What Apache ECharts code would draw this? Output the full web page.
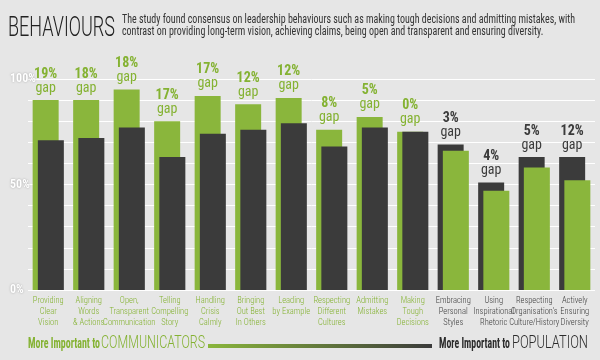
<!DOCTYPE html>
<html><head><meta charset="utf-8">
<script src="https://cdn.jsdelivr.net/npm/echarts@6/dist/echarts.min.js"></script>
<style>html,body{margin:0;padding:0;background:#e6e6e6}#c{width:600px;height:360px}</style>
</head><body><div id="c"></div>
<script>
const categories = ['Providing\nClear\nVision', 'Aligning\nWords\n& Actions', 'Open,\nTransparent\nCommunication', 'Telling\nCompelling\nStory', 'Handling\nCrisis\nCalmly', 'Bringing\nOut Best\nIn Others', 'Leading\nby Example', 'Respecting\nDifferent\nCultures', 'Admitting\nMistakes', 'Making\nTough\nDecisions', 'Embracing\nPersonal\nStyles', 'Using\nInspirational\nRhetoric', "Respecting\nOrganisation's\nCulture/History", 'Actively\nEnsuring\nDiversity'];
const communicators = [90, 90, 95, 80, 92, 88, 91, 76, 82, 75, 66, 47, 58, 52];
const population = [71, 72, 77, 63, 74, 76, 79, 68, 77, 75, 69, 51, 63, 63];
const gapLabels = ['19%', '18%', '18%', '17%', '17%', '12%', '12%', '8%', '5%', '0%', '3%', '4%', '5%', '12%'];
const yTickLabels = [0, 50, 100];
const titleText = 'BEHAVIOURS';
const subtitleText = 'The study found consensus on leadership behaviours such as making tough decisions and admitting mistakes, with\ncontrast on providing long-term vision, achieving claims, being open and transparent and ensuring diversity.';
const legendLeft = ['More Important to', 'COMMUNICATORS'];
const legendRight = ['More Important to', 'POPULATION'];

const GREEN = '#8ab63c', GREEN_TXT = '#84b232', DARK = '#3b3b3b', BG = '#e6e6e6';
const COND = "'Roboto Condensed', 'Liberation Sans', sans-serif";
const HAND = "Roboto, sans-serif";

const mctx = document.createElement('canvas').getContext('2d');
function fit(text, size, weight, family, w) {
  mctx.font = weight + ' ' + size + 'px ' + family;
  return w / mctx.measureText(text.split('\n')[0]).width;
}

// which group is more important to communicators (green bar behind / left)
const commTop = communicators.map((v, i) => v >= population[i]);

function richFor(color) {
  return {
    p: { fontFamily: COND, fontWeight: 'bold', fontSize: 14, color: color, lineHeight: 14 },
    g: { fontFamily: COND, fontSize: 14, color: color, lineHeight: 14 }
  };
}
const labelFmt = p => '{p|' + gapLabels[p.dataIndex] + '}\n{g|gap}';

// axis 0: categories where communicators lead (green back-left, dark front-right)
const g0 = communicators.map((v, i) => commTop[i] ? v : '-');
const d0 = population.map((v, i) => commTop[i] ? v : '-');
// axis 1: categories where population leads (dark back-left, green front-right)
const d1 = population.map((v, i) => commTop[i] ? '-' : v);
const g1 = communicators.map((v, i) => commTop[i] ? '-' : v);

const chart = echarts.init(document.getElementById('c'), null, { renderer: 'canvas' });

const tScaleX = fit(titleText, 16, '300', HAND, 107);
const sScale = fit(subtitleText, 12, 'normal', COND, 453);
const l1 = fit(legendLeft[0], 14, 'bold', COND, 72);
const l2 = fit(legendLeft[1], 14, '300', HAND, 104);
const r1 = fit(legendRight[0], 14, 'bold', COND, 71);
const r2 = fit(legendRight[1], 14, '300', HAND, 76);

const barCommon = { type: 'bar', barWidth: 26, barGap: '-80%' };

chart.setOption({
  backgroundColor: BG,
  animation: false,
  grid: { left: 28, right: 5, top: 79, bottom: 70 },
  xAxis: [
    {
      type: 'category', data: categories,
      axisLine: { show: false }, axisTick: { show: false },
      axisLabel: {
        interval: 0, fontFamily: COND, fontWeight: 300, fontSize: 8.5, lineHeight: 11, margin: 5,
        color: (v, i) => commTop[i] ? GREEN_TXT : DARK
      }
    },
    { type: 'category', data: categories, show: false }
  ],
  yAxis: {
    type: 'value', min: 0, max: 100, interval: 10,
    axisLine: { show: false }, axisTick: { show: false },
    splitLine: { lineStyle: { color: '#ffffff', width: 1 } },
    axisLabel: {
      formatter: v => yTickLabels.includes(v) ? v + '%' : '',
      color: '#ffffff', fontFamily: COND, fontWeight: 'bold', fontSize: 12,
      align: 'left', margin: 18,
      textShadowColor: 'rgba(0,0,0,0.3)', textShadowBlur: 2
    }
  },
  series: [
    Object.assign({}, barCommon, {
      xAxisIndex: 0, data: g0, z: 2, itemStyle: { color: GREEN },
      label: { show: true, position: 'top', distance: 5, formatter: labelFmt, rich: richFor(GREEN_TXT) }
    }),
    Object.assign({}, barCommon, { xAxisIndex: 0, data: d0, z: 3, itemStyle: { color: DARK } }),
    Object.assign({}, barCommon, {
      xAxisIndex: 1, data: d1, z: 2, itemStyle: { color: DARK },
      label: { show: true, position: 'top', distance: 5, formatter: labelFmt, rich: richFor(DARK) }
    }),
    Object.assign({}, barCommon, { xAxisIndex: 1, data: g1, z: 3, itemStyle: { color: GREEN } })
  ],
  graphic: [
    { type: 'text', x: 8, y: 15, scaleX: tScaleX, scaleY: 1.75,
      style: { text: titleText, fontFamily: HAND, fontWeight: 300, fontSize: 16, fill: '#222222', textVerticalAlign: 'top' } },
    { type: 'text', x: 122, y: 14, scaleX: sScale,
      style: { text: subtitleText, fontFamily: COND, fontSize: 12, lineHeight: 12, fill: '#333333', textVerticalAlign: 'top' } },
    { type: 'text', x: 28, y: 337, scaleX: l1,
      style: { text: legendLeft[0], fontFamily: COND, fontWeight: 'bold', fontSize: 14, fill: GREEN_TXT, textVerticalAlign: 'top' } },
    { type: 'text', x: 101, y: 334, scaleX: l2, scaleY: 1.3,
      style: { text: legendLeft[1], fontFamily: HAND, fontWeight: 300, fontSize: 14, fill: GREEN_TXT, textVerticalAlign: 'top' } },
    { type: 'rect', shape: { x: 208, y: 344, width: 224, height: 4 },
      style: { fill: new echarts.graphic.LinearGradient(0, 0, 1, 0, [{ offset: 0, color: GREEN }, { offset: 1, color: DARK }]) } },
    { type: 'text', x: 439, y: 337, scaleX: r1,
      style: { text: legendRight[0], fontFamily: COND, fontWeight: 'bold', fontSize: 14, fill: '#2b2b2b', textVerticalAlign: 'top' } },
    { type: 'text', x: 512, y: 334, scaleX: r2, scaleY: 1.3,
      style: { text: legendRight[1], fontFamily: HAND, fontWeight: 300, fontSize: 14, fill: '#2b2b2b', textVerticalAlign: 'top' } }
  ]
});
</script>
</body></html>
